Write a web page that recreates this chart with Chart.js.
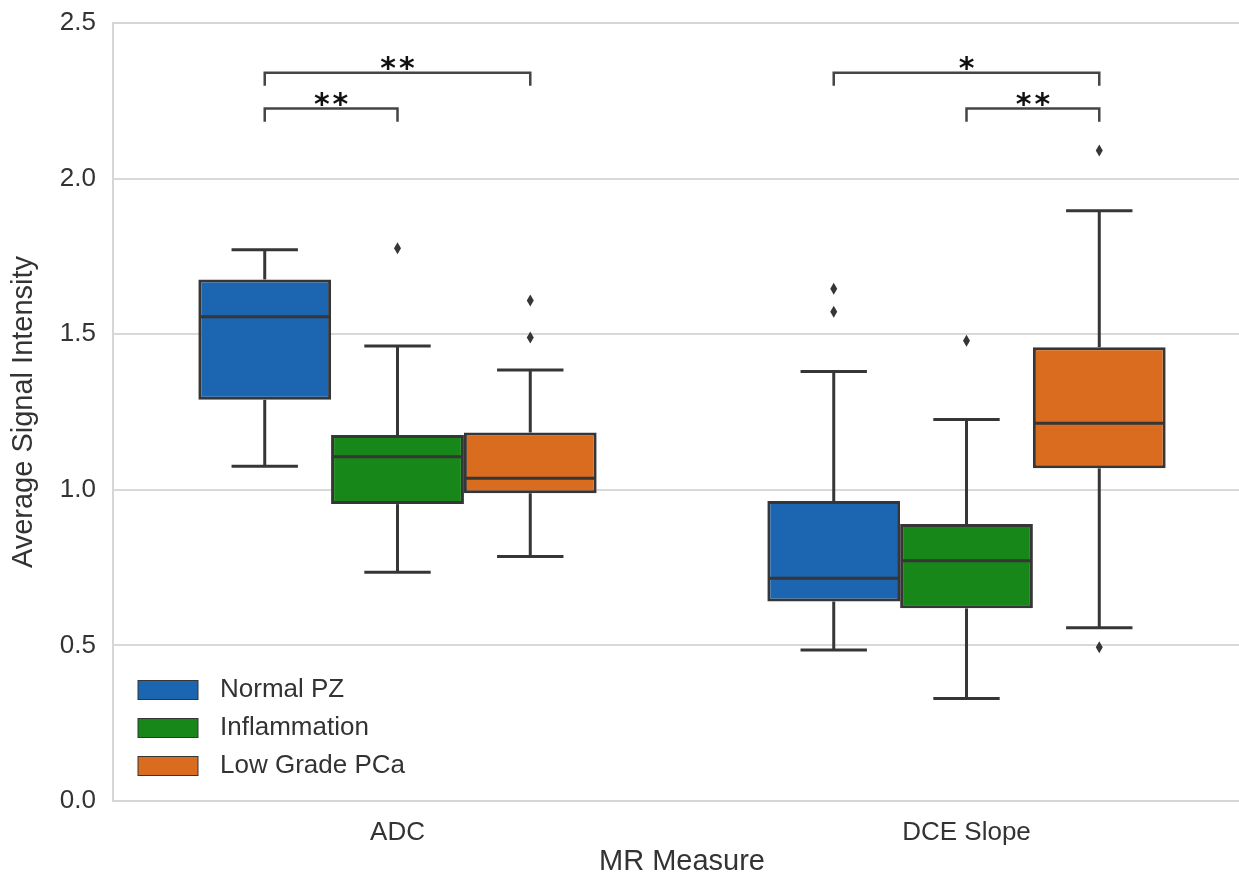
<!DOCTYPE html>
<html>
<head>
<meta charset="utf-8">
<title>Average Signal Intensity by MR Measure</title>
<script src="https://cdn.jsdelivr.net/npm/chart.js@4.4.1/dist/chart.umd.min.js"></script>
<style>
  html, body { margin: 0; padding: 0; background: #fff; overflow: hidden; }
  #wrap { width: 1262px; height: 879px; }
</style>
</head>
<body>
<div id="wrap"><canvas id="boxChart" width="1262" height="879"></canvas></div>
<script>
const categories = ["ADC", "DCE Slope"];
const groups = ["Normal PZ", "Inflammation", "Low Grade PCa"];
const groupColors = ["#1b65b1", "#168718", "#da6c1f"];
const yTicks = [0, 0.5, 1.0, 1.5, 2.0, 2.5];

// one row per group, columns follow categories
const whiskerLow = [[1.076, 0.485], [0.735, 0.329], [0.786, 0.557]];
const quartile1 = [[1.289, 0.641], [0.954, 0.619], [0.989, 1.069]];
const medians = [[1.556, 0.716], [1.106, 0.772], [1.037, 1.214]];
const quartile3 = [[1.676, 0.964], [1.176, 0.890], [1.184, 1.458]];
const whiskerHigh = [[1.771, 1.380], [1.462, 1.226], [1.385, 1.897]];
const outliers = [[[], [1.646, 1.572]], [[1.776], [1.479]], [[1.608, 1.489], [2.090, 0.494]]];

// significance brackets
const bracketCategory = [0, 0, 1, 1];
const bracketFrom = [0, 0, 0, 1];
const bracketTo = [2, 1, 2, 2];
const bracketLevel = [2.34, 2.225, 2.34, 2.225];
const bracketLabel = ["**", "**", "*", "**"];

const EDGE = "#363636";
const FONT = "'Liberation Sans', Arial, sans-serif";

const boxPlotParts = {
  id: "boxPlotParts",
  beforeDatasetsDraw(chart) {
    const { ctx, chartArea: a } = chart;
    ctx.save();
    ctx.strokeStyle = "#d6d6d6";
    ctx.lineWidth = 2;
    ctx.strokeRect(a.left, a.top, a.right - a.left, a.bottom - a.top);
    ctx.restore();
  },
  afterDatasetsDraw(chart) {
    const { ctx, chartArea: a } = chart;
    const y = chart.scales.y;
    const line = (x1, y1, x2, y2) => {
      ctx.beginPath();
      ctx.moveTo(x1, y1);
      ctx.lineTo(x2, y2);
      ctx.stroke();
    };
    ctx.save();
    ctx.strokeStyle = EDGE;
    ctx.fillStyle = EDGE;
    ctx.lineWidth = 3;

    groups.forEach((g, i) => {
      chart.getDatasetMeta(i).data.forEach((bar, j) => {
        const x = bar.x;
        const half = bar.width / 2;
        const yHi = y.getPixelForValue(whiskerHigh[i][j]);
        const yLo = y.getPixelForValue(whiskerLow[i][j]);
        line(x, y.getPixelForValue(quartile3[i][j]), x, yHi);
        line(x, y.getPixelForValue(quartile1[i][j]), x, yLo);
        line(x - half / 2, yHi, x + half / 2, yHi);
        line(x - half / 2, yLo, x + half / 2, yLo);
        const ym = y.getPixelForValue(medians[i][j]);
        line(x - half + 1, ym, x + half - 1, ym);
        outliers[i][j].forEach(v => {
          const yo = y.getPixelForValue(v);
          ctx.beginPath();
          ctx.moveTo(x, yo - 6);
          ctx.lineTo(x + 3.5, yo);
          ctx.lineTo(x, yo + 6);
          ctx.lineTo(x - 3.5, yo);
          ctx.closePath();
          ctx.fill();
        });
      });
    });

    // brackets
    ctx.lineWidth = 2.5;
    ctx.strokeStyle = "#454545";
    ctx.fillStyle = "#111";
    ctx.font = "bold 30px 'DejaVu Sans', sans-serif";
    ctx.letterSpacing = "3px";
    ctx.textAlign = "center";
    ctx.textBaseline = "alphabetic";
    bracketLabel.forEach((label, k) => {
      const c = bracketCategory[k];
      const x1 = chart.getDatasetMeta(bracketFrom[k]).data[c].x;
      const x2 = chart.getDatasetMeta(bracketTo[k]).data[c].x;
      const yt = y.getPixelForValue(bracketLevel[k]);
      const yb = y.getPixelForValue(bracketLevel[k] - 0.042);
      ctx.beginPath();
      ctx.moveTo(x1, yb);
      ctx.lineTo(x1, yt);
      ctx.lineTo(x2, yt);
      ctx.lineTo(x2, yb);
      ctx.stroke();
      ctx.fillText(label, (x1 + x2) / 2 + 1.5, yt + 5);
    });
    ctx.letterSpacing = "0px";

    // legend
    ctx.font = "26px " + FONT;
    ctx.textAlign = "left";
    ctx.textBaseline = "middle";
    ctx.lineWidth = 1;
    chart.data.datasets.forEach((ds, i) => {
      const ly = a.bottom - 111 + i * 38;
      ctx.fillStyle = ds.backgroundColor;
      ctx.fillRect(a.left + 25, ly - 9.5, 60, 19);
      ctx.strokeStyle = EDGE;
      ctx.strokeRect(a.left + 25, ly - 9.5, 60, 19);
      ctx.fillStyle = "#333";
      ctx.fillText(ds.label, a.left + 107, ly);
    });
    ctx.restore();
  }
};

new Chart(document.getElementById("boxChart"), {
  type: "bar",
  data: {
    labels: categories,
    datasets: groups.map((g, i) => ({
      label: g,
      data: categories.map((c, j) => [quartile1[i][j], quartile3[i][j]]),
      backgroundColor: groupColors[i],
      borderColor: EDGE,
      borderWidth: 3,
      borderSkipped: false,
      categoryPercentage: 0.7,
      barPercentage: 1.0
    }))
  },
  options: {
    responsive: false,
    animation: false,
    events: [],
    layout: { padding: { left: 7, top: 23, right: 11, bottom: 0 } },
    plugins: {
      legend: { display: false },
      tooltip: { enabled: false }
    },
    scales: {
      x: {
        grid: { display: false, drawTicks: false },
        border: { display: false },
        ticks: { font: { family: FONT, size: 26 }, color: "#333", padding: 16 },
        title: {
          display: true, text: "MR Measure", color: "#333",
          font: { family: FONT, size: 29 }, padding: { top: 0, bottom: 0 }
        },
        afterFit(scale) { scale.height = 78; }
      },
      y: {
        min: 0,
        max: 2.5,
        afterBuildTicks(scale) { scale.ticks = yTicks.map(v => ({ value: v })); },
        grid: { color: "#d9d9d9", lineWidth: 2, drawTicks: false },
        border: { display: false },
        ticks: {
          font: { family: FONT, size: 26 }, color: "#333", padding: 17,
          callback: v => Number(v).toFixed(1)
        },
        title: {
          display: true, text: "Average Signal Intensity", color: "#333",
          font: { family: FONT, size: 29 }, padding: { top: 0, bottom: 0 }
        },
        afterFit(scale) {
          scale.width = 106;
          scale.paddingTop = 0;
        }
      }
    }
  },
  plugins: [boxPlotParts]
});
</script>
</body>
</html>
